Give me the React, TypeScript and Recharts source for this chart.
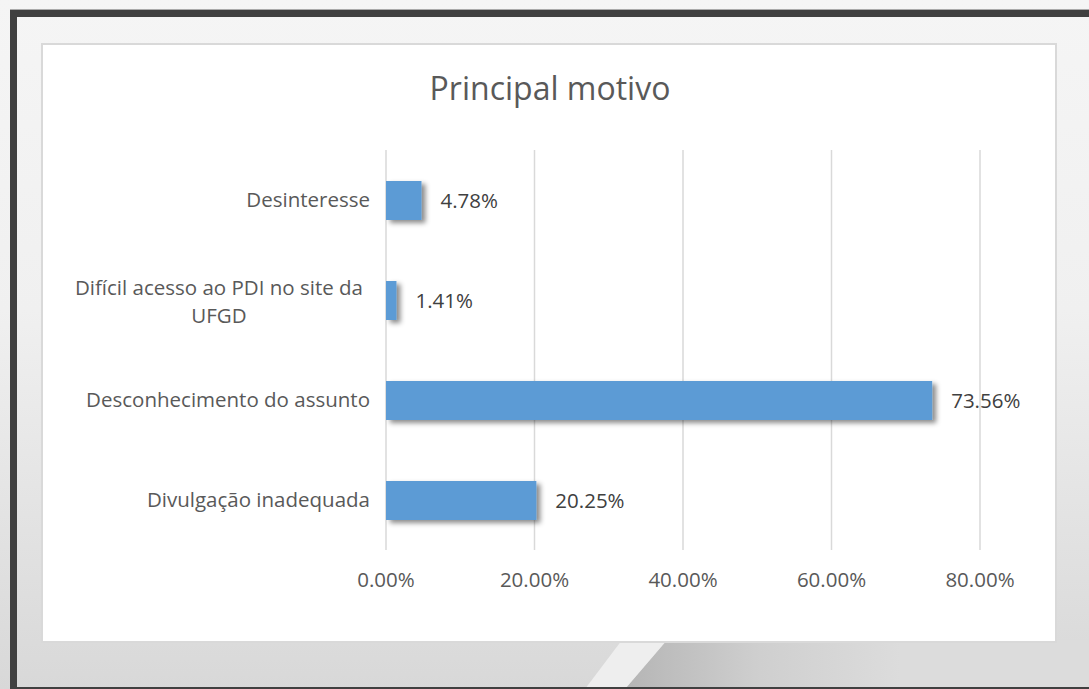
import { Bar, BarChart, CartesianGrid, LabelList, XAxis, YAxis } from 'recharts'

const CATEGORIES = [
  'Desinteresse',
  'Difícil acesso ao PDI no site da\nUFGD',
  'Desconhecimento do assunto',
  'Divulgação inadequada',
]
const VALUES = [4.78, 1.41, 73.56, 20.25]
const X_TICKS = [0, 20, 40, 60, 80]

const FONT = '"Open Sans", sans-serif'
const LABEL_SIZE = 20.5
const fmtPct = (v: number) => `${Number(v).toFixed(2)}%`

let measureCtx: CanvasRenderingContext2D | null = null
function textWidth(s: string) {
  if (!measureCtx) measureCtx = document.createElement('canvas').getContext('2d')
  if (!measureCtx) return s.length * 9
  measureCtx.font = `${LABEL_SIZE}px ${FONT}`
  return measureCtx.measureText(s).width
}

function CategoryTick({ x, y, payload }: any) {
  const lines = String(payload.value).split('\n')
  if (lines.length === 1) {
    return (
      <text x={x} y={y} dy="0.35em" textAnchor="end" fill="#595959" fontSize={LABEL_SIZE} fontFamily={FONT}>
        {lines[0]}
      </text>
    )
  }
  // wrapped labels: block right edge near the axis, each line centred in it
  const widths = lines.map(textWidth)
  const blockW = Math.max(...widths)
  const right = x - 7
  const cx = right - blockW / 2
  const lineH = 28
  return (
    <g>
      {lines.map((l, i) => (
        <text
          key={i}
          x={cx - widths[i] / 2}
          y={y + 2 + (i - (lines.length - 1) / 2) * lineH}
          dy="0.35em"
          textAnchor="start"
          fill="#595959"
          fontSize={LABEL_SIZE}
          fontFamily={FONT}
        >
          {l}
        </text>
      ))}
    </g>
  )
}

function ShadowBar({ x, y, width, height, fill }: any) {
  return <rect x={x} y={y} width={width} height={height} fill={fill} filter="url(#barShadow)" />
}

export default function App() {
  const data = CATEGORIES.map((name, i) => ({ name, value: VALUES[i] }))

  return (
    <div
      style={{
        position: 'absolute',
        left: 0,
        top: 0,
        width: 1089,
        height: 689,
        overflow: 'hidden',
        fontFamily: FONT,
        background: 'linear-gradient(180deg, #f5f5f5 0%, #f0f0f0 45%, #d8d8d8 100%)',
      }}
    >
      <svg width={0} height={0} style={{ position: 'absolute' }}>
        <defs>
          <filter id="barShadow" filterUnits="userSpaceOnUse" x={-100} y={-100} width={2000} height={2000}>
            <feDropShadow dx={4} dy={3} stdDeviation={2.5} floodColor="#000" floodOpacity={0.45} />
          </filter>
        </defs>
      </svg>

      {/* grey shade and light swoosh near the bottom */}
      <div
        style={{
          position: 'absolute',
          left: 0,
          top: 0,
          width: 1089,
          height: 689,
          clipPath: 'polygon(667px 640px, 1089px 640px, 1089px 689px, 625px 689px)',
          background: 'linear-gradient(90deg, #b4b4b4 620px, #cfcfcf 760px, #dcdcdc 900px)',
        }}
      />
      <div
        style={{
          position: 'absolute',
          left: 0,
          top: 0,
          width: 1089,
          height: 689,
          clipPath: 'polygon(622px 640px, 667px 640px, 625px 689px, 585px 689px)',
          background: '#eeeeee',
        }}
      />

      {/* dark frame */}
      <div
        style={{
          position: 'absolute',
          left: 10,
          top: 10,
          width: 1200,
          height: 670,
          border: '7px solid #404040',
          boxShadow: '0 -1px 0 #aaa',
        }}
      />

      {/* white chart area */}
      <div
        style={{
          position: 'absolute',
          left: 41,
          top: 43,
          width: 1012,
          height: 596,
          background: '#fff',
          border: '2px solid #d9d9d9',
        }}
      />

      <div
        style={{
          position: 'absolute',
          left: 0,
          top: 66,
          width: 1100,
          textAlign: 'center',
          fontSize: 32,
          color: '#595959',
          lineHeight: '44px',
        }}
      >
        Principal motivo
      </div>

      <div style={{ position: 'absolute', left: 0, top: 0 }}>
        <BarChart
          width={1089}
          height={689}
          data={data}
          layout="vertical"
          margin={{ top: 150, right: 109, bottom: 99, left: 0 }}
          barCategoryGap={0}
        >
          <CartesianGrid horizontal={false} stroke="#d9d9d9" strokeWidth={1.5} />
          <XAxis
            type="number"
            domain={[0, 80]}
            ticks={X_TICKS}
            tickFormatter={fmtPct}
            axisLine={false}
            tickLine={false}
            tickSize={0}
            tickMargin={22}
            height={40}
            tick={{ fill: '#595959', fontSize: LABEL_SIZE, fontFamily: FONT }}
            interval={0}
          />
          <YAxis
            type="category"
            dataKey="name"
            width={386}
            axisLine={false}
            tickLine={false}
            tickSize={0}
            tickMargin={16}
            tick={<CategoryTick />}
            interval={0}
          />
          <Bar dataKey="value" fill="#5b9bd5" barSize={39} shape={<ShadowBar />} isAnimationActive={false}>
            <LabelList
              dataKey="value"
              position="right"
              offset={19}
              formatter={fmtPct}
              fill="#404040"
              fontSize={LABEL_SIZE}
              fontFamily={FONT}
            />
          </Bar>
        </BarChart>
      </div>
    </div>
  )
}
